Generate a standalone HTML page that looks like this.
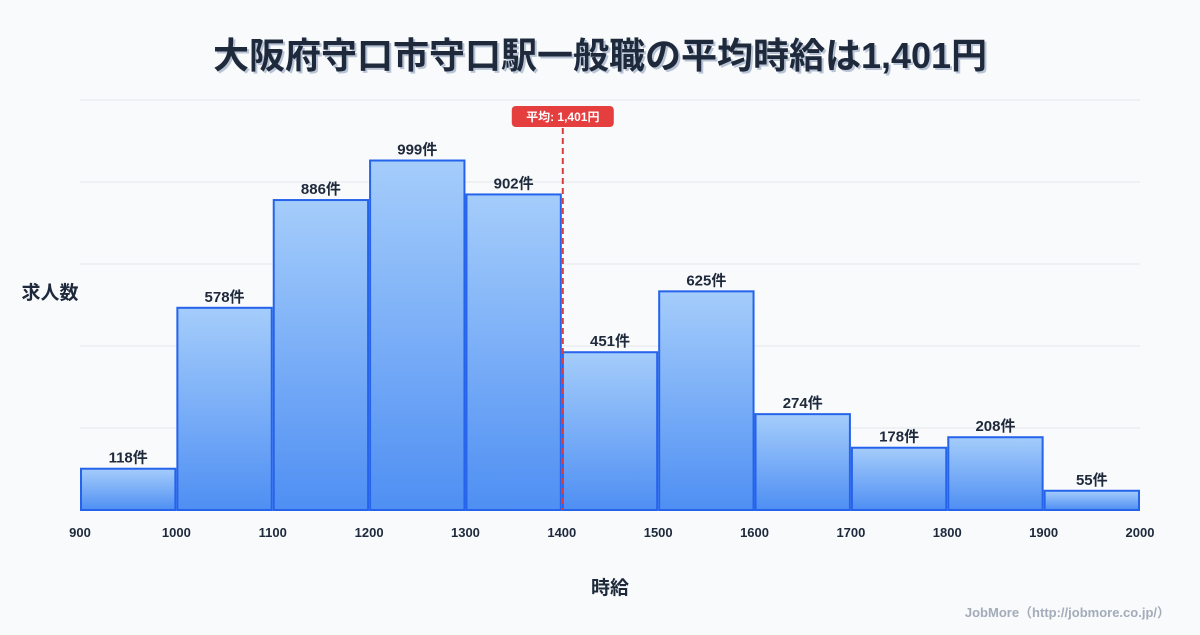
<!DOCTYPE html>
<html><head><meta charset="utf-8"><style>
body{margin:0;width:1200px;height:630px;background:#f8fafc;font-family:"Liberation Sans","Noto Sans CJK JP",sans-serif;overflow:hidden}
</style></head><body>
<svg width="1200" height="630" xmlns="http://www.w3.org/2000/svg">
<defs><linearGradient id="g" x1="0" y1="0" x2="0" y2="1"><stop offset="0" stop-color="#a5cdfb"/><stop offset="1" stop-color="#4f8ff3"/></linearGradient></defs>
<rect width="1200" height="630" fill="#f8fafc"/>
<text x="602" y="70" text-anchor="middle" font-size="36" font-weight="bold" fill="#b8c4d6" font-family="Liberation Sans,Noto Sans CJK JP,sans-serif">大阪府守口市守口駅一般職の平均時給は1,401円</text>
<text x="600" y="68" text-anchor="middle" font-size="36" font-weight="bold" fill="#1e293b" font-family="Liberation Sans,Noto Sans CJK JP,sans-serif">大阪府守口市守口駅一般職の平均時給は1,401円</text>
<g id="grid"></g><g id="bars"></g><g id="xt"></g>
<text x="50" y="299" text-anchor="middle" font-size="19" font-weight="bold" fill="#1e293b">求人数</text>
<text x="610" y="594" text-anchor="middle" font-size="19" font-weight="bold" fill="#1e293b">時給</text>
<text x="1170" y="617" text-anchor="end" font-size="13" font-weight="bold" fill="#a3acb9">JobMore（http://jobmore.co.jp/）</text>
<g id="mean"></g>
</svg>
<script>
const binStarts=[900,1000,1100,1200,1300,1400,1500,1600,1700,1800,1900];
const counts=[118,578,886,999,902,451,625,274,178,208,55];
const xTicks=[900,1000,1100,1200,1300,1400,1500,1600,1700,1800,1900,2000];
const meanValue=1401;
const meanLabel="平均: 1,401円";
const NS="http://www.w3.org/2000/svg";
const X0=80,X1=1140,Y0=510,Y1=100,xMin=900,xMax=2000,yMax=1172;
const x=v=>X0+(v-xMin)/(xMax-xMin)*(X1-X0);
const y=v=>Y0-v/yMax*(Y0-Y1);
function mk(t,a,p){const e=document.createElementNS(NS,t);for(const k in a)e.setAttribute(k,a[k]);p.appendChild(e);return e;}
const grid=document.getElementById('grid');
for(let i=0;i<=5;i++){const gy=Y0-i*(Y0-Y1)/5;const l=mk('line',{x1:X0,x2:X1,y1:gy,y2:gy,stroke:'#e5e7eb','stroke-width':1},grid);

}
const bars=document.getElementById('bars');
binStarts.forEach((b,i)=>{const x1=x(b)+1,x2=x(b+100)-1,t=y(counts[i]);
const r=mk('rect',{x:x1,y:t,width:x2-x1,height:Y0-t,fill:'url(#g)',stroke:'#2563eb','stroke-width':2},bars);


const tx=mk('text',{x:(x1+x2)/2,y:t-6,'text-anchor':'middle','font-size':15,'font-weight':'bold',fill:'#1e293b'},bars);tx.textContent=counts[i]+'件';

});
const xt=document.getElementById('xt');
xTicks.forEach(v=>{const t=mk('text',{x:x(v),y:537,'text-anchor':'middle','font-size':13,'font-weight':'bold',fill:'#1e293b'},xt);t.textContent=v;

});
const m=document.getElementById('mean');const mx=x(meanValue);
const ml=mk('line',{x1:mx,x2:mx,y1:128,y2:Y0,stroke:'#dc3c3c','stroke-width':2,'stroke-dasharray':'6,4'},m);


const mb=mk('rect',{x:mx-51,y:106,width:102,height:21,rx:4,fill:'#e53e3e'},m);


const mt=mk('text',{x:mx,y:121,'text-anchor':'middle','font-size':12,'font-weight':'bold',fill:'#fff'},m);mt.textContent=meanLabel;


</script>
</body></html>
